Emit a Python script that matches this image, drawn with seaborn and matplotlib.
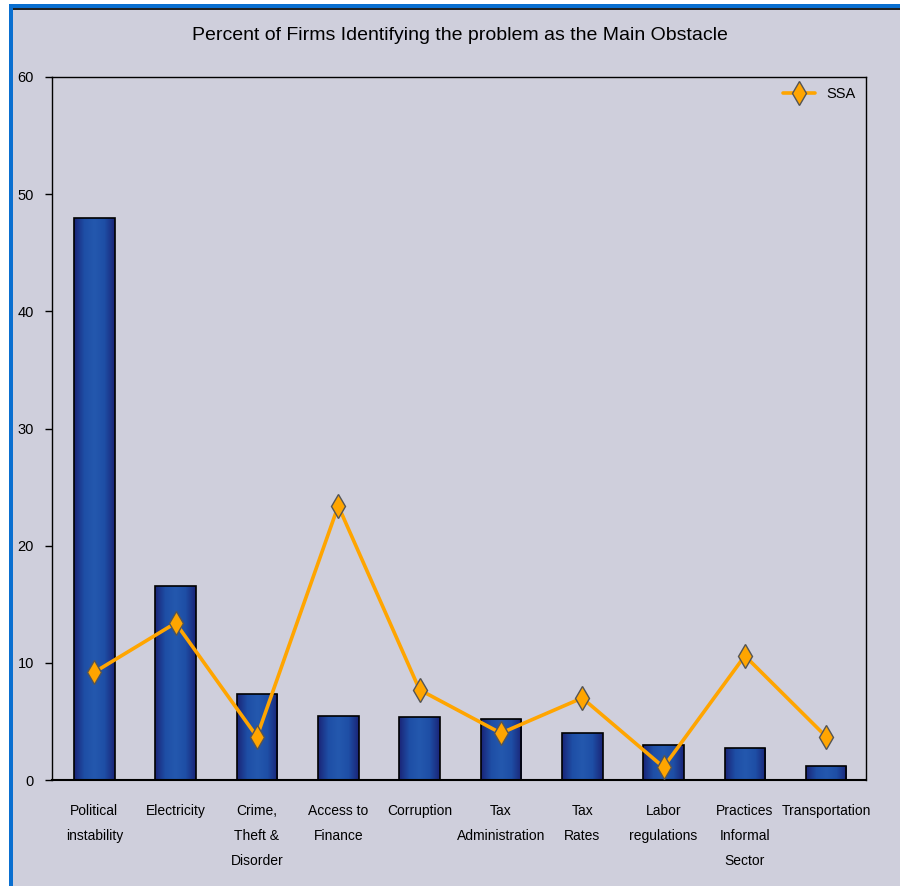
import numpy as np
import matplotlib
matplotlib.use("Agg")
import matplotlib.pyplot as plt
import seaborn as sns
from matplotlib.patches import Rectangle
from matplotlib.colors import LinearSegmentedColormap

# Data
categories = ["Political\ninstability", "Electricity", "Crime,\nTheft &\nDisorder",
              "Access to\nFinance", "Corruption", "Tax\nAdministration", "Tax\nRates",
              "Labor\nregulations", "Practices\nInformal\nSector", "Transportation"]
country_values = [48.0, 16.6, 7.3, 5.5, 5.4, 5.2, 4.0, 3.0, 2.7, 1.2]
ssa_values = [9.2, 13.4, 3.7, 23.4, 7.7, 4.0, 7.0, 1.1, 10.6, 3.7]
y_ticks = [0, 10, 20, 30, 40, 50, 60]

BG = "#CFCFDC"
BAR = "#1C3C98"
LINE = "#FFA500"

sns.set_theme(style="white")
plt.rcParams['font.family'] = ['Liberation Sans Narrow', 'Liberation Sans', 'DejaVu Sans']
plt.rcParams['text.color'] = 'black'
plt.rcParams['xtick.color'] = 'black'
plt.rcParams['ytick.color'] = 'black'

fig = plt.figure(figsize=(9, 8.86), dpi=100)
fig.patch.set_facecolor(BG)

# white margin + blue frame on left/top, drawn behind the axes
for rect in [((0, 0), 9 / 900, 1, "white"),
             ((0, 1 - 4 / 886), 1, 4 / 886, "white"),
             ((9 / 900, 0), 4 / 900, 1 - 4 / 886, "#0A6FD0"),
             ((9 / 900, 1 - 8 / 886), 1, 4 / 886, "#0A6FD0"),
             ((13 / 900, 1 - 10 / 886), 1, 2 / 886, "#222222")]:
    (x0, y0), w, h, c = rect
    fig.patches.append(Rectangle((x0, y0), w, h, transform=fig.transFigure,
                                 facecolor=c, edgecolor="none", zorder=-10))

ax = fig.add_axes([52 / 900, 1 - 780 / 886, (866 - 52) / 900, (780 - 77) / 886])
ax.set_facecolor(BG)

sns.barplot(x=categories, y=country_values, color=BAR, width=0.5,
            edgecolor="black", linewidth=1.2, saturation=1, ax=ax, zorder=2)

# horizontal shading inside each bar (dark edges, lighter middle)
shade = LinearSegmentedColormap.from_list("barshade", ["#1A2578", "#1E4FA6", "#2458AE", "#1E4FA6", "#1A2578"])
grad = np.linspace(0, 1, 64).reshape(1, -1)
for bar in ax.patches:
    x0, y0 = bar.get_x(), bar.get_y()
    w, h = bar.get_width(), bar.get_height()
    im = ax.imshow(grad, cmap=shade, aspect="auto", extent=(x0, x0 + w, y0, y0 + h),
                   zorder=2.1, interpolation="bilinear")
    im.set_clip_path(bar)
    bar.set_facecolor("none")
    bar.set_zorder(2.2)

sns.pointplot(x=categories, y=ssa_values, color=LINE, marker="d", markersize=12,
              markeredgecolor="#555555", markeredgewidth=1, linewidth=2.6,
              label="SSA", ax=ax, zorder=3)

ax.set_xlim(-0.52, 9.49)
ax.set_ylim(0, 60)
ax.set_yticks(y_ticks)
ax.tick_params(axis="y", which="both", left=True, length=5, width=1,
               labelsize=10.5, pad=8)
ax.tick_params(axis="x", bottom=False, labelsize=10, pad=11)
for lbl in ax.get_xticklabels():
    lbl.set_linespacing(2.0)
for sp in ax.spines.values():
    sp.set_color("black")
    sp.set_linewidth(1)
ax.spines["bottom"].set_linewidth(1.5)
ax.set_xlabel("")
ax.set_ylabel("")

ax.legend(loc="upper right", frameon=False, fontsize=10.5, handlelength=2.2,
          borderaxespad=0.3)

fig.text(460 / 900, 1 - 35 / 886, "Percent of Firms Identifying the problem as the Main Obstacle",
         ha="center", va="center", fontsize=14)

fig.savefig("out.png", dpi=100, facecolor=fig.get_facecolor())
